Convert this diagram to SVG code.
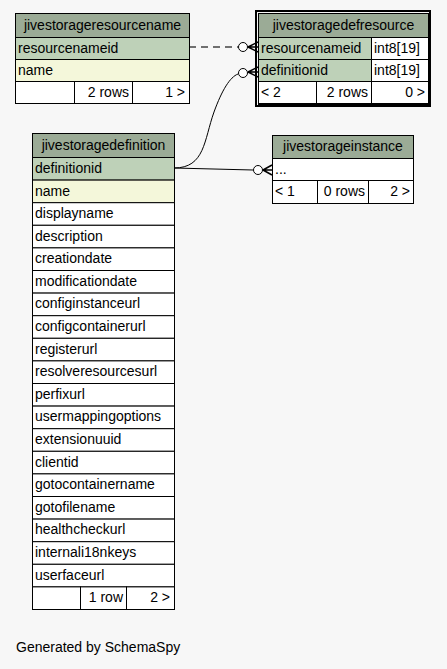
<svg xmlns="http://www.w3.org/2000/svg" width="447" height="669" viewBox="0 0 447 669">
<style>
text{font-family:"Liberation Sans",Arial,sans-serif;font-size:14px;fill:#000}
.hd{fill:#9bab96;stroke:#000;stroke-width:1}
.pk{fill:#bed1b8;stroke:#000;stroke-width:1}
.nm{fill:#f4f7da;stroke:#000;stroke-width:1}
.wh{fill:#fff;stroke:#000;stroke-width:1}
.c{text-anchor:middle}
.r{text-anchor:end}
.ln{fill:none;stroke:#000;stroke-width:1}
.circ{fill:#fff;stroke:#000;stroke-width:1}
.crow{fill:none;stroke:#000;stroke-width:1.5}
</style>
<rect width="447" height="669" fill="#f7f7f7"/>
<g id="connectors">
<path class="ln" d="M189,47 L238,47" stroke-dasharray="7,5" style="stroke:#444;stroke-width:1.5"/>
<circle class="circ" cx="243" cy="47" r="4.5"/>
<path class="crow" d="M248,47 L258,47 M248,47 L258,42 M248,47 L258,52"/>
<path class="ln" d="M174,168 C205,168 204,140 214,112 C222,90 230,77 238,74"/>
<circle class="circ" cx="243" cy="73" r="4.5"/>
<path class="crow" d="M248,72 L258,72 M248,72 L258,67 M248,72 L258,77"/>
<path class="ln" d="M174,168 L253,170"/>
<circle class="circ" cx="258" cy="170" r="4.5"/>
<path class="crow" d="M263,170 L272,170 M263,170 L272,165 M263,170 L272,175"/>
</g>
<g id="jivestorageresourcename">
<rect class="hd" x="15.5" y="13.5" width="174" height="24"/>
<text class="c" x="102.5" y="30">jivestorageresourcename</text>
<rect class="pk" x="15.5" y="37.5" width="174" height="22"/>
<text x="18" y="53">resourcenameid</text>
<rect class="nm" x="15.5" y="59.5" width="174" height="22"/>
<text x="18" y="75">name</text>
<rect class="wh" x="15.5" y="81.5" width="59" height="22"/>
<rect class="wh" x="74.5" y="81.5" width="58" height="22"/>
<rect class="wh" x="132.5" y="81.5" width="57" height="22"/>
<text class="r" x="129" y="97">2 rows</text>
<text class="r" x="185" y="97">1 &gt;</text>
</g>
<g id="jivestoragedefresource">
<rect x="255.5" y="10.5" width="175" height="96" fill="none" stroke="#000" stroke-width="1"/>
<rect x="256.5" y="11.5" width="173" height="94" fill="none" stroke="#000" stroke-width="1"/>
<rect x="258.5" y="13.5" width="170" height="91" fill="none" stroke="#000" stroke-width="1"/>
<rect class="hd" x="258.5" y="13.5" width="170" height="24"/>
<text class="c" x="343.5" y="30">jivestoragedefresource</text>
<rect class="pk" x="258.5" y="37.5" width="113" height="22"/>
<text x="261" y="53">resourcenameid</text>
<rect class="wh" x="371.5" y="37.5" width="57" height="22"/>
<text x="374" y="53">int8[19]</text>
<rect class="pk" x="258.5" y="59.5" width="113" height="22"/>
<text x="261" y="75">definitionid</text>
<rect class="wh" x="371.5" y="59.5" width="57" height="22"/>
<text x="374" y="75">int8[19]</text>
<rect class="wh" x="258.5" y="81.5" width="58" height="22"/>
<rect class="wh" x="316.5" y="81.5" width="55" height="22"/>
<rect class="wh" x="371.5" y="81.5" width="57" height="22"/>
<text x="261" y="97">&lt; 2</text>
<text class="r" x="368" y="97">2 rows</text>
<text class="r" x="425" y="97">0 &gt;</text>
</g>
<g id="jivestorageinstance">
<rect class="hd" x="272.5" y="135.5" width="141" height="23"/>
<text class="c" x="343" y="151">jivestorageinstance</text>
<rect class="wh" x="272.5" y="158.5" width="141" height="22"/>
<text x="275" y="174">...</text>
<rect class="wh" x="272.5" y="180.5" width="45" height="23"/>
<rect class="wh" x="317.5" y="180.5" width="51" height="23"/>
<rect class="wh" x="368.5" y="180.5" width="45" height="23"/>
<text x="275" y="196">&lt; 1</text>
<text class="r" x="365" y="196">0 rows</text>
<text class="r" x="410" y="196">2 &gt;</text>
</g>
<g id="jivestoragedefinition">
<rect class="hd" x="32.5" y="133.5" width="142" height="24"/>
<text class="c" x="103.5" y="150">jivestoragedefinition</text>
<rect class="pk" x="32.5" y="157.5" width="142" height="22.6"/>
<text x="35" y="173">definitionid</text>
<rect class="nm" x="32.5" y="180.1" width="142" height="22.6"/>
<text x="35" y="196">name</text>
<rect class="wh" x="32.5" y="202.7" width="142" height="22.6"/>
<text x="35" y="218">displayname</text>
<rect class="wh" x="32.5" y="225.3" width="142" height="22.6"/>
<text x="35" y="241">description</text>
<rect class="wh" x="32.5" y="247.9" width="142" height="22.6"/>
<text x="35" y="263">creationdate</text>
<rect class="wh" x="32.5" y="270.5" width="142" height="22.6"/>
<text x="35" y="286">modificationdate</text>
<rect class="wh" x="32.5" y="293.1" width="142" height="22.6"/>
<text x="35" y="308">configinstanceurl</text>
<rect class="wh" x="32.5" y="315.7" width="142" height="22.6"/>
<text x="35" y="331">configcontainerurl</text>
<rect class="wh" x="32.5" y="338.3" width="142" height="22.6"/>
<text x="35" y="354">registerurl</text>
<rect class="wh" x="32.5" y="360.9" width="142" height="22.6"/>
<text x="35" y="376">resolveresourcesurl</text>
<rect class="wh" x="32.5" y="383.5" width="142" height="22.6"/>
<text x="35" y="399">perfixurl</text>
<rect class="wh" x="32.5" y="406.1" width="142" height="22.6"/>
<text x="35" y="421">usermappingoptions</text>
<rect class="wh" x="32.5" y="428.7" width="142" height="22.6"/>
<text x="35" y="444">extensionuuid</text>
<rect class="wh" x="32.5" y="451.3" width="142" height="22.6"/>
<text x="35" y="467">clientid</text>
<rect class="wh" x="32.5" y="473.9" width="142" height="22.6"/>
<text x="35" y="489">gotocontainername</text>
<rect class="wh" x="32.5" y="496.5" width="142" height="22.6"/>
<text x="35" y="512">gotofilename</text>
<rect class="wh" x="32.5" y="519.1" width="142" height="22.6"/>
<text x="35" y="534">healthcheckurl</text>
<rect class="wh" x="32.5" y="541.7" width="142" height="22.6"/>
<text x="35" y="557">internali18nkeys</text>
<rect class="wh" x="32.5" y="564.3" width="142" height="22.6"/>
<text x="35" y="580">userfaceurl</text>
<rect class="wh" x="32.5" y="586.9" width="48" height="22.6"/>
<rect class="wh" x="80.5" y="586.9" width="46" height="22.6"/>
<rect class="wh" x="126.5" y="586.9" width="48" height="22.6"/>
<text class="r" x="123" y="602">1 row</text>
<text class="r" x="170" y="602">2 &gt;</text>
</g>
<text x="16" y="652">Generated by SchemaSpy</text>
</svg>
